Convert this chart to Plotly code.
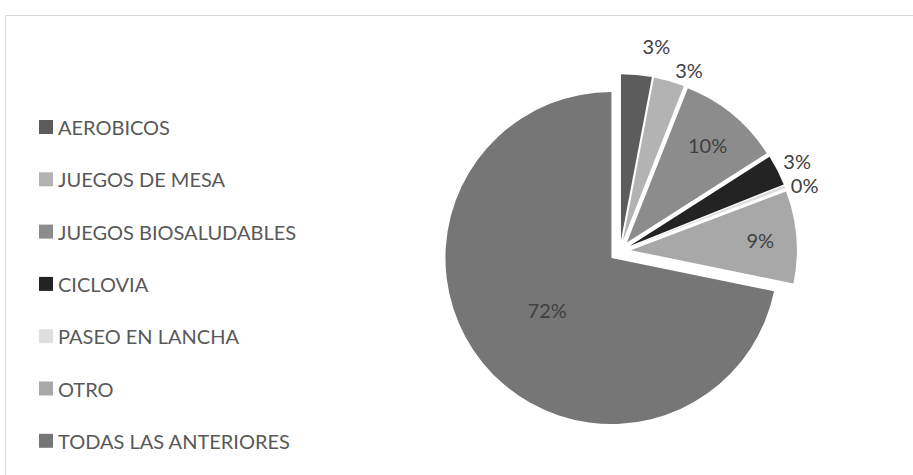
import plotly.graph_objects as go

categories = ["AEROBICOS", "JUEGOS DE MESA", "JUEGOS BIOSALUDABLES", "CICLOVIA",
              "PASEO EN LANCHA", "OTRO", "TODAS LAS ANTERIORES"]
values = [3, 3, 10, 3, 0.3, 9, 72]
colors = ["#5c5c5c", "#b3b3b3", "#8c8c8c", "#232323", "#dedede", "#a8a8a8", "#767676"]
text_positions = ["outside", "outside", "inside", "outside", "outside", "inside", "inside"]

W, H = 913, 475
FONT = "Lato, 'Open Sans', sans-serif"
TXT = "#595959"

fig = go.Figure()
fig.add_trace(go.Pie(
    labels=categories,
    values=values,
    sort=False,
    direction="clockwise",
    rotation=0,
    pull=[0.066] * len(values),
    marker=dict(colors=colors, line=dict(width=0)),
    textposition=text_positions,
    texttemplate="%{percent:.0%}",
    insidetextorientation="horizontal",
    textfont=dict(family=FONT, size=20, color="#404040"),
    showlegend=False,
    domain=dict(x=[0.485, 0.873], y=[0.099, 0.844]),
    hoverinfo="label+percent",
))

# chart border
fig.add_shape(type="rect", xref="paper", yref="paper",
              x0=5.5 / W, x1=1.01, y0=-0.01, y1=1 - 15.5 / H,
              line=dict(color="#d9d9d9", width=1), fillcolor="rgba(0,0,0,0)")

# legend built from categories/colors
y_start, step = 127, 52.3
for i, (cat, col) in enumerate(zip(categories, colors)):
    yc = y_start + i * step
    fig.add_shape(type="rect", xref="paper", yref="paper",
                  x0=39 / W, x1=53 / W, y0=1 - (yc + 7) / H, y1=1 - (yc - 7) / H,
                  line=dict(width=0), fillcolor=col)
    fig.add_annotation(x=56 / W, y=1 - yc / H, xref="paper", yref="paper",
                       text=cat, showarrow=False, xanchor="left", yanchor="middle",
                       font=dict(family=FONT, size=20, color=TXT))

fig.update_layout(
    width=W, height=H,
    margin=dict(l=0, r=0, t=0, b=0),
    paper_bgcolor="white",
    plot_bgcolor="white",
)

fig.write_html(
    "out.html",
    config={"displayModeBar": False},
    post_script=(
        "document.body.style.margin='0';"
        "document.querySelectorAll('path.textline').forEach(function(e){e.remove();});"
    ),
)
